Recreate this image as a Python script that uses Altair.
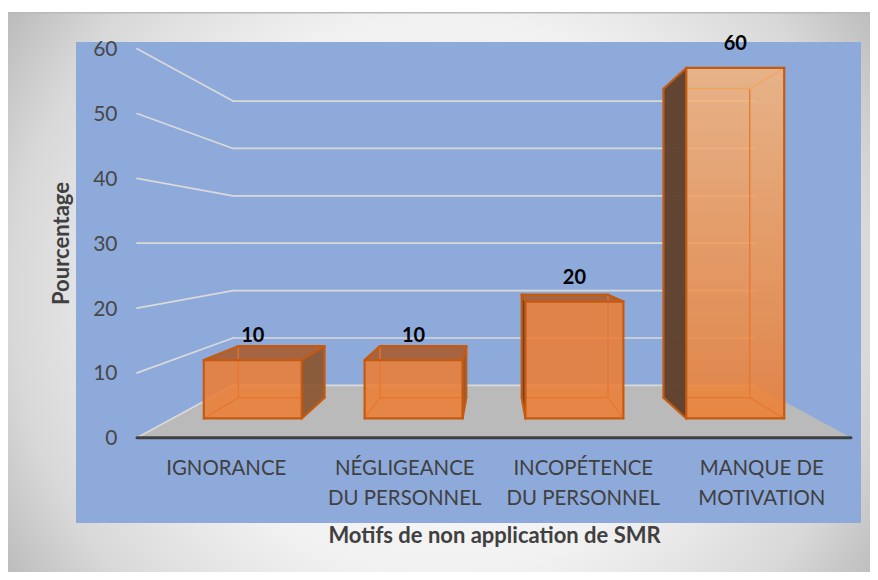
import altair as alt
import pandas as pd

categories = ["IGNORANCE", "NÉGLIGEANCE|DU PERSONNEL", "INCOPÉTENCE|DU PERSONNEL", "MANQUE DE|MOTIVATION"]
values = [10, 10, 20, 60]
y_ticks = [0, 10, 20, 30, 40, 50, 60]
x_title = "Motifs de non application de SMR"
y_title = "Pourcentage"

W, H = 862, 564
FONT = "Lato"

# Perspective: k is the scale of a depth plane relative to the axis plane
K_BAR_FRONT, K_BAR_BACK, K_WALL = 0.901, 0.794, 0.731
X_VANISH, V_VANISH = 2.0, 30.0
BAR_HALF = 0.3045
Y_ZERO = 429.7


def px(X, k):
    return X_VANISH + k * (X - X_VANISH)


def py(v, k):
    return V_VANISH + k * (v - V_VANISH)


x_scale = alt.Scale(domain=[-129 * 4 / 714, (W - 129) * 4 / 714], range=[0, W], nice=False, zero=False)
y_scale = alt.Scale(domain=[(Y_ZERO - H) / 6.483, Y_ZERO / 6.483], range=[H, 0], nice=False, zero=False)
x_axis = alt.Axis(
    title=x_title, labels=False, ticks=False, domain=False, grid=False, zindex=1,
    titleFont=FONT, titleFontSize=22, titleFontWeight="bold", titleColor="#404040",
    titleX=486, titleY=527 - H, titleBaseline="middle", titleAlign="center")
y_axis = alt.Axis(
    title=y_title, values=y_ticks, ticks=False, domain=False, grid=False, offset=-109, labelPadding=0, zindex=1,
    labelFont=FONT, labelFontSize=21, labelColor="#484848", labelOffset=1,
    titleFont=FONT, titleFontSize=22, titleFontWeight="bold", titleColor="#404040",
    titleX=-56, titleY=235, titleAngle=270, titleBaseline="middle", titleAlign="center")
X = alt.X("x:Q", scale=x_scale, axis=x_axis)
Y = alt.Y("y:Q", scale=y_scale, axis=y_axis)
X2 = alt.X2("x2:Q")
Y2 = alt.Y2("y2:Q")


def rules(segments, color, width, cap="round"):
    df = pd.DataFrame(segments, columns=["x", "y", "x2", "y2"])
    return alt.Chart(df).mark_rule(color=color, strokeWidth=width, strokeCap=cap).encode(x=X, y=Y, x2=X2, y2=Y2)


def side_face(xa, ya, y2a, xb, yb, y2b, fill, opacity=1.0):
    df = pd.DataFrame({"x": [xa, xb], "y": [ya, yb], "y2": [y2a, y2b]})
    return alt.Chart(df).mark_area(fill=fill, opacity=opacity, line=False).encode(x=X, y=Y, y2=Y2)


def flat_face(y_a, xa, xa2, y_b, xb, xb2, fill, opacity=1.0):
    df = pd.DataFrame({"y": [y_a, y_b], "x": [xa, xb], "x2": [xa2, xb2]})
    return alt.Chart(df).mark_area(fill=fill, opacity=opacity, orient="horizontal", line=False).encode(x=X, x2=X2, y=Y)


one = pd.DataFrame({"a": [0]})
layers = []

# page background: circular gradient on a square that the plot area clips
layers.append(
    alt.Chart(one).mark_rect(
        clip=True,
        fill=alt.RadialGradient(
            gradient="radial", x1=0.5, y1=0.5, r1=0.0, x2=0.5, y2=0.5, r2=0.59,
            stops=[alt.GradientStop(offset=0, color="#ffffff"),
                   alt.GradientStop(offset=0.55, color="#f1f1f1"),
                   alt.GradientStop(offset=0.84, color="#d8d8d8"),
                   alt.GradientStop(offset=1, color="#bdbdbd")]),
    ).encode(x=alt.value(0), x2=alt.value(870), y=alt.value(-147), y2=alt.value(723))
)
layers.append(alt.Chart(one).mark_rect(fill="#ffffff").encode(
    x=alt.value(0), x2=alt.value(W), y=alt.value(0), y2=alt.value(4)))
layers.append(alt.Chart(one).mark_rect(fill="#b9b9b9").encode(
    x=alt.value(0), x2=alt.value(W), y=alt.value(4), y2=alt.value(5.5)))
layers.append(alt.Chart(one).mark_rect(fill="#8eaadb").encode(
    x=alt.value(68), x2=alt.value(853), y=alt.value(34), y2=alt.value(515)))

# floor
layers.append(flat_face(py(0, 1), px(0, 1), px(4, 1), py(0, K_WALL), px(0, K_WALL), px(4, K_WALL), "#bababa"))

# gridlines
grid = []
for t in y_ticks[1:]:
    grid.append((px(0, 1), t, px(0, K_WALL), py(t, K_WALL)))
    grid.append((px(0, K_WALL), py(t, K_WALL), px(4, K_WALL), py(t, K_WALL)))
grid.append((px(0, 1), 0, px(0, K_WALL), py(0, K_WALL)))
grid.append((px(0, K_WALL), py(0, K_WALL), px(4, K_WALL), py(0, K_WALL)))
layers.append(rules(grid, "#d9d9d9", 1.7))

# axis line at the front of the floor
layers.append(rules([(px(0, 1), 0, px(4, 1), 0)], "#404040", 3))

# bars
front_gradient = alt.LinearGradient(
    gradient="linear", x1=0, y1=0, x2=0, y2=1,
    stops=[alt.GradientStop(offset=0, color="#f6b47a"), alt.GradientStop(offset=1, color="#ee7d2e")])

for i, v in enumerate(values):
    c = i + 0.5
    l, r = c - BAR_HALF, c + BAR_HALF
    fl, fr = px(l, K_BAR_FRONT), px(r, K_BAR_FRONT)
    bl, br = px(l, K_BAR_BACK), px(r, K_BAR_BACK)
    f0, ft = py(0, K_BAR_FRONT), py(v, K_BAR_FRONT)
    b0, bt = py(0, K_BAR_BACK), py(v, K_BAR_BACK)
    tall = v > V_VANISH

    # outer visible side: right-hand bars show their left side and vice versa
    if c < X_VANISH:
        layers.append(side_face(fr, ft, f0, br, bt, b0, "#8a5530", 0.92))
        outer_f, outer_b, inner_f, inner_b = fr, br, fl, bl
    else:
        layers.append(side_face(bl, bt, b0, fl, ft, f0, "#60402c", 0.96))
        outer_f, outer_b, inner_f, inner_b = fl, bl, fr, br

    if not tall:
        layers.append(flat_face(ft, fl, fr, bt, bl, br, "#a9603a", 0.95))

    # front face
    df_front = pd.DataFrame({"x": [fl, fr], "y": [ft, ft], "y2": [f0, f0]})
    layers.append(
        alt.Chart(df_front).mark_area(fill=front_gradient if tall else "#ed7d31", opacity=0.85, line=False)
        .encode(x=X, y=Y, y2=Y2)
    )

    # inner edges seen through the front stop where the dark side begins
    back_from, back_to = max(bl, fl), min(br, fr)
    inner = [
        (back_from, b0, back_to, b0),
        (inner_b, b0, inner_b, bt),
        (inner_f, f0, inner_b, b0),
    ]
    layers.append(rules(inner, "#e8772c", 1.3))
    top_color = "#f2a35e" if tall else "#c8631c"
    layers.append(rules([(back_from, bt, back_to, bt), (inner_f, ft, inner_b, bt)], top_color, 1.3))
    outer = [
        (fl, ft, fr, ft), (fl, f0, fr, f0), (fl, ft, fl, f0), (fr, ft, fr, f0),
        (outer_b, bt, outer_b, b0), (outer_f, ft, outer_b, bt), (outer_f, f0, outer_b, b0),
    ]
    if not tall:
        outer += [(inner_f, ft, inner_b, bt), (bl, bt, br, bt)]
    layers.append(rules(outer, "#c55a11", 2.2))

# value labels, centred over the front face of each bar
df_lab = pd.DataFrame({"x": [px(i + 0.5, K_BAR_FRONT) for i in range(4)],
                       "y": [py(v, K_BAR_FRONT) for v in values],
                       "t": [str(v) for v in values]})
layers.append(
    alt.Chart(df_lab).mark_text(font=FONT, fontSize=20, fontWeight="bold", color="#000000", dy=-24, baseline="middle")
    .encode(x=X, y=Y, text="t:N")
)

# category labels
line1 = [(i + 0.5, s.split("|")[0]) for i, s in enumerate(categories)]
line2 = [(i + 0.5, s.split("|")[1]) for i, s in enumerate(categories) if "|" in s]
for rows, ypos in ((line1, 461), (line2, 491)):
    df = pd.DataFrame(rows, columns=["x", "t"])
    layers.append(
        alt.Chart(df).mark_text(font=FONT, fontSize=20.4, color="#404040", baseline="middle")
        .encode(x=X, y=alt.value(ypos), text="t:N")
    )

chart = alt.layer(*layers).properties(
    width=W, height=H, padding=0,
    autosize=alt.AutoSizeParams(type="none"),
    background="#ffffff",
).configure_view(stroke=None)

chart.save("out.html", embed_options={"renderer": "svg", "actions": False})
